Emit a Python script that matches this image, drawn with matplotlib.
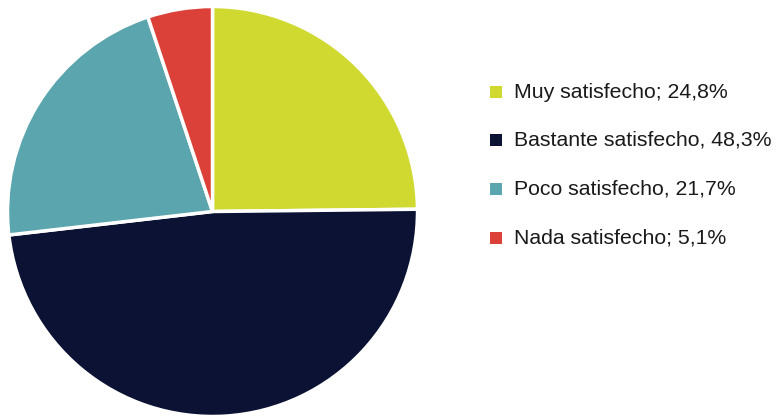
import matplotlib.pyplot as plt
from matplotlib.patches import Rectangle

plt.rcParams['font.family'] = ['Liberation Sans', 'DejaVu Sans']

labels = ['Muy satisfecho; 24,8%', 'Bastante satisfecho, 48,3%',
          'Poco satisfecho, 21,7%', 'Nada satisfecho; 5,1%']
values = [24.8, 48.3, 21.7, 5.1]
colors = ['#cfd92f', '#0b1233', '#5aa5ae', '#dc4139']

W, H = 782, 416
fig = plt.figure(figsize=(W / 100, H / 100), dpi=100)

# pie axes: centre ~ (212, 211), radius ~ 205 px
cx, cy, r = 212.5, 211.5, 205
ax = fig.add_axes([(cx - r) / W, (H - cy - r) / H, 2 * r / W, 2 * r / H])
ax.pie(values, colors=colors, startangle=90, counterclock=False, radius=1,
       wedgeprops=dict(edgecolor='white', linewidth=2.5))
ax.set_xlim(-1, 1)
ax.set_ylim(-1, 1)
ax.set_aspect('equal')
ax.axis('off')

# legend drawn by hand
row_y = [92, 140, 189, 238]
for lab, col, y in zip(labels, colors, row_y):
    fig.patches.append(Rectangle((490 / W, (H - y - 6) / H), 12 / W, 12 / H,
                                 facecolor=col, edgecolor='none',
                                 transform=fig.transFigure, figure=fig))
    fig.text(514 / W, (H - y) / H, lab, fontsize=15.3, color='#1a1a1a',
             va='center', ha='left')

fig.savefig('out.png', dpi=100)
